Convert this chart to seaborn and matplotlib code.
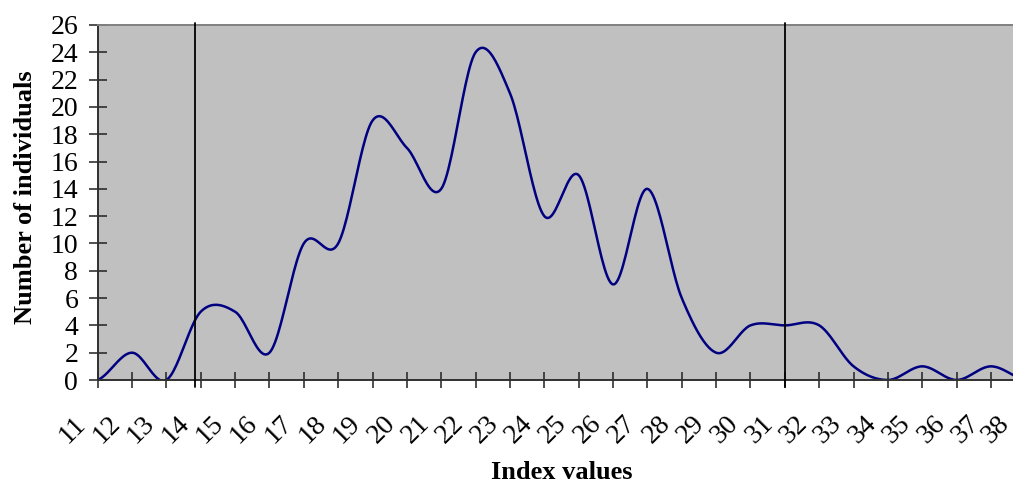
import numpy as np
import pandas as pd
import matplotlib
matplotlib.use("Agg")
import matplotlib.pyplot as plt
import matplotlib.transforms as mtransforms
import seaborn as sns

# Frequency of individuals for each index value
index_values = list(range(11, 39))
individuals = [0, 2, 0, 5, 5, 2, 10, 10, 19, 17, 14, 24, 21, 12,
               15, 7, 14, 6, 2, 4, 4, 4, 1, 0, 1, 0, 1, 0]
cutoffs = [13.83, 31.0]
y_ticks = list(range(0, 27, 2))


def smooth_curve(x, y, samples=24):
    """Catmull-Rom smoothing through every point (spreadsheet-style smoothed line)."""
    x = np.asarray(x, float)
    y = np.asarray(y, float)
    yp = np.concatenate([[y[0]], y, [y[-1]]])
    m = (yp[2:] - yp[:-2]) / 2.0
    xs, ys = [], []
    for i in range(len(x) - 1):
        t = np.linspace(0, 1, samples, endpoint=(i == len(x) - 2))
        h00 = 2 * t**3 - 3 * t**2 + 1
        h10 = t**3 - 2 * t**2 + t
        h01 = -2 * t**3 + 3 * t**2
        h11 = t**3 - t**2
        xs.append(x[i] + t * (x[i + 1] - x[i]))
        ys.append(h00 * y[i] + h10 * m[i] + h01 * y[i + 1] + h11 * m[i + 1])
    return np.concatenate(xs), np.concatenate(ys)


sx, sy = smooth_curve(index_values, individuals)
curve = pd.DataFrame({"index": sx, "count": sy})

sns.set_style("white")
plt.rcParams["font.family"] = ["Liberation Serif", "DejaVu Serif"]
plt.rcParams["text.color"] = "black"
plt.rcParams["xtick.color"] = "black"
plt.rcParams["ytick.color"] = "black"

fig = plt.figure(figsize=(10.13, 4.86), dpi=100)
ax = fig.add_axes([0.0964, 0.2181, 0.9158, 0.7305])
ax.set_facecolor("#C0C0C0")

sns.lineplot(data=curve, x="index", y="count", sort=False, estimator=None,
             color="#000080", linewidth=1.8, ax=ax)

for c in cutoffs:
    ax.plot([c, c], [-0.52, 26.18], color="black", linewidth=1.3,
            clip_on=False, zorder=5)

ax.set_xlim(index_values[0], index_values[-1])
ax.set_ylim(0, 26)
ax.set_xticks(index_values)
ax.set_xticklabels([str(v) for v in index_values])
ax.set_yticks(y_ticks)
ax.set_yticklabels([str(v) for v in y_ticks])

ax.tick_params(axis="y", left=True, direction="inout", length=13, width=1.1,
               color="#202020", labelcolor="black", labelsize=20, pad=7.5)
ax.tick_params(axis="x", bottom=True, direction="inout", length=12, width=1.1,
               color="#202020", labelcolor="black", labelsize=20, pad=23)

xlabels = ax.get_xticklabels()
for i, lab in enumerate(xlabels):
    # the last label sits against the right edge, nudge it inward slightly
    dx = -19.5 if i == len(xlabels) - 1 else -15.5
    offset = mtransforms.ScaledTranslation(dx / 100, 0, fig.dpi_scale_trans)
    lab.set_rotation(45)
    lab.set_rotation_mode("anchor")
    lab.set_ha("right")
    lab.set_va("center")
    lab.set_transform(lab.get_transform() + offset)

for side in ["left", "bottom"]:
    ax.spines[side].set_color("#303030")
    ax.spines[side].set_linewidth(1.4)
ax.spines["top"].set_color("#808080")
ax.spines["top"].set_linewidth(1.4)
ax.spines["right"].set_visible(False)

ax.set_xlabel("")
ax.set_ylabel("")
fig.text(0.025, 0.595, "Number of individuals", rotation=90, ha="center",
         va="center", fontsize=19, fontweight="bold", color="black")
fig.text(0.555, 0.014, "Index values", ha="center", va="baseline",
         fontsize=19, fontweight="bold", color="black")

fig.savefig("out.png", dpi=100)
